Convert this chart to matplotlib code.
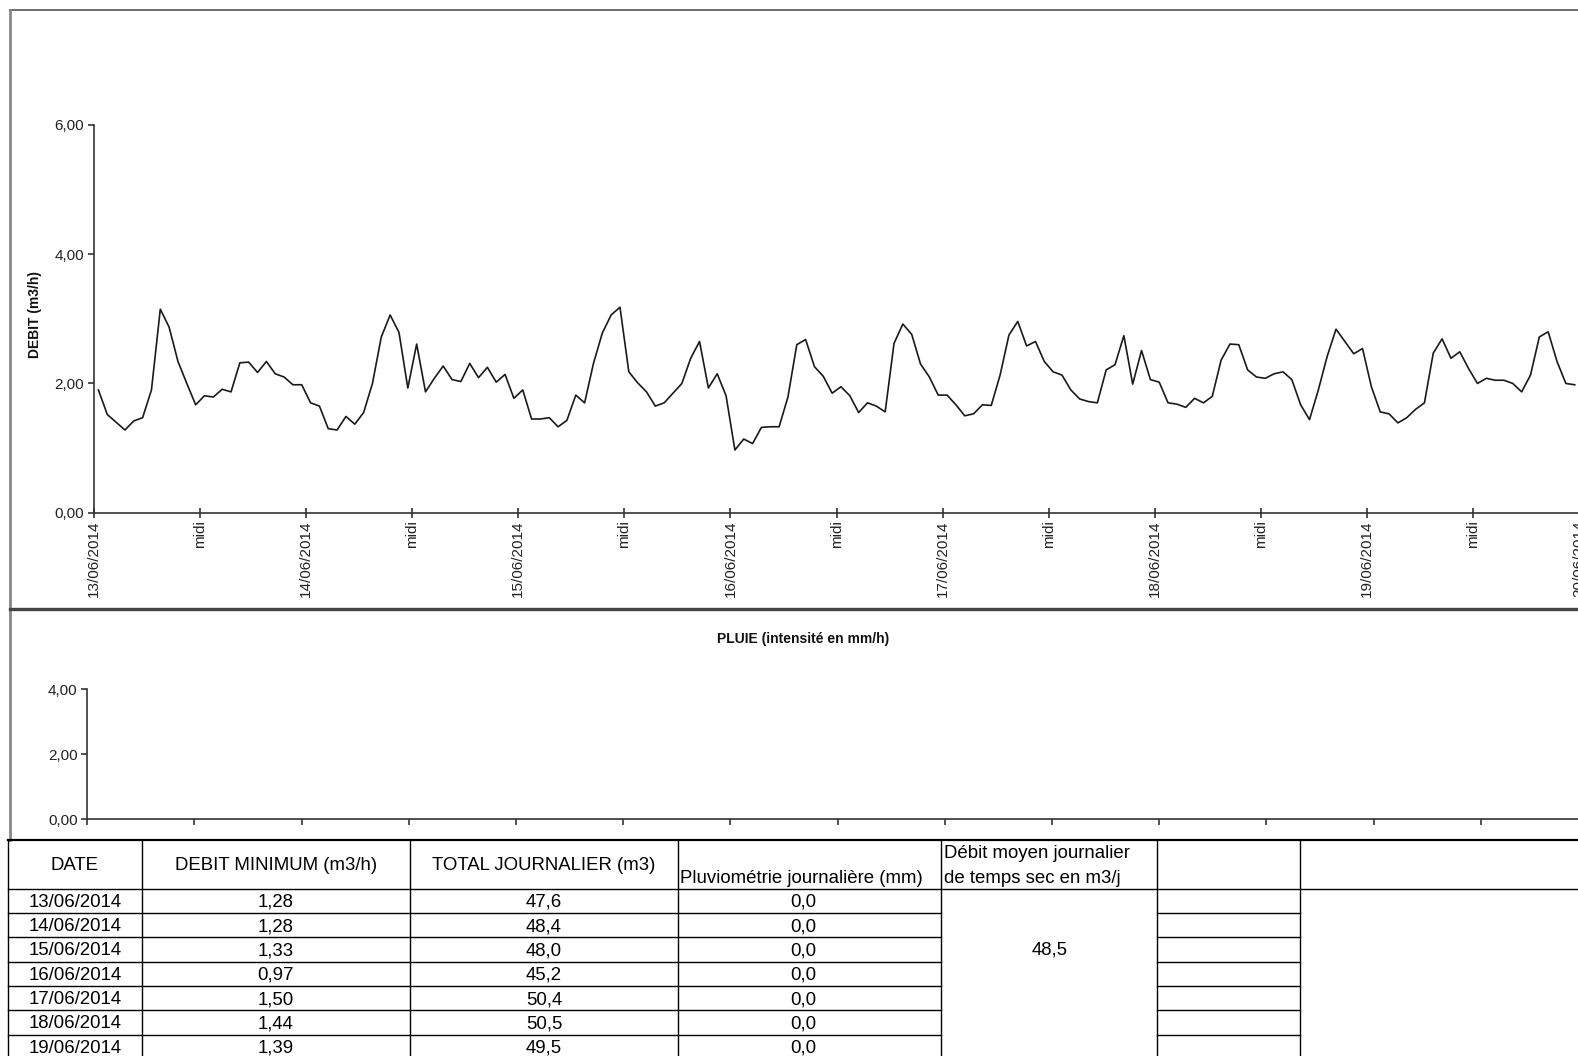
import numpy as np
import matplotlib
matplotlib.use("Agg")
import matplotlib.pyplot as plt
from matplotlib.ticker import FuncFormatter

plt.rcParams["font.family"] = ["Liberation Sans", "DejaVu Sans"]

# hourly flow (m3/h), 13/06/2014 00h -> 19/06/2014 23h
debit = [1.90, 1.52, 1.40, 1.28, 1.42, 1.47, 1.90, 3.15, 2.87, 2.34, 2.00, 1.67,
         1.81, 1.79, 1.91, 1.87, 2.32, 2.33, 2.17, 2.34, 2.15, 2.10, 1.98, 1.98,
         1.70, 1.65, 1.30, 1.28, 1.49, 1.37, 1.55, 2.00, 2.72, 3.06, 2.79, 1.93,
         2.61, 1.87, 2.08, 2.27, 2.06, 2.03, 2.31, 2.09, 2.25, 2.02, 2.14, 1.77,
         1.90, 1.45, 1.45, 1.47, 1.33, 1.43, 1.82, 1.70, 2.31, 2.78, 3.06, 3.18,
         2.18, 2.01, 1.87, 1.65, 1.70, 1.85, 2.00, 2.39, 2.65, 1.93, 2.15, 1.81,
         0.97, 1.14, 1.07, 1.32, 1.33, 1.33, 1.79, 2.60, 2.68, 2.26, 2.11, 1.85,
         1.95, 1.81, 1.55, 1.70, 1.65, 1.56, 2.62, 2.92, 2.76, 2.30, 2.10, 1.82,
         1.82, 1.67, 1.50, 1.53, 1.67, 1.66, 2.13, 2.75, 2.96, 2.58, 2.65, 2.34,
         2.18, 2.13, 1.90, 1.76, 1.72, 1.70, 2.21, 2.29, 2.74, 1.99, 2.51, 2.06,
         2.02, 1.70, 1.68, 1.63, 1.77, 1.70, 1.80, 2.36, 2.61, 2.60, 2.21, 2.10,
         2.08, 2.15, 2.18, 2.06, 1.67, 1.44, 1.90, 2.42, 2.84, 2.65, 2.46, 2.54,
         1.95, 1.56, 1.53, 1.39, 1.47, 1.60, 1.70, 2.47, 2.69, 2.39, 2.49, 2.23,
         2.00, 2.08, 2.05, 2.05, 2.00, 1.87, 2.13, 2.72, 2.80, 2.34, 2.00, 1.98]
pluie = [0.0] * 168

jours = ["13/06/2014", "14/06/2014", "15/06/2014", "16/06/2014",
         "17/06/2014", "18/06/2014", "19/06/2014", "20/06/2014"]

# table
dates = jours[:7]
debit_min = ["1,28", "1,28", "1,33", "0,97", "1,50", "1,44", "1,39"]
total_jour = ["47,6", "48,4", "48,0", "45,2", "50,4", "50,5", "49,5"]
pluvio = ["0,0"] * 7
debit_moyen = "48,5"

W, H = 1578, 1056
fig = plt.figure(figsize=(W / 100, H / 100), dpi=100)


def box(x0, y0, x1, y1):
    return [x0 / W, 1 - y1 / H, (x1 - x0) / W, (y1 - y0) / H]


virg = FuncFormatter(lambda v, p: f"{v:.2f}".replace(".", ","))
gris = "#333333"

# debit chart
ax = fig.add_axes(box(94, 125, 1620, 512.7))
h = np.arange(len(debit)) + 0.5
ax.plot(h, debit, color="#1a1a1a", lw=1.2)
ax.set_xlim(0, (1620 - 94) / 8.84)
ax.set_ylim(0, 6)
ax.set_yticks([0, 2, 4, 6])
ax.yaxis.set_major_formatter(virg)
ticks = np.arange(0, 169, 12)
labels = []
for i in range(len(ticks)):
    labels.append(jours[i // 2] if i % 2 == 0 else "midi")
ax.set_xticks(ticks)
ax.set_xticklabels(labels, rotation=90, va="top")
for s in ["top", "right"]:
    ax.spines[s].set_visible(False)
for s in ["left", "bottom"]:
    ax.spines[s].set_color(gris)
    ax.spines[s].set_linewidth(1.2)
ax.tick_params(axis="x", direction="inout", length=7, width=1.2, color=gris,
               labelsize=11, labelcolor="#222222", pad=2)
ax.tick_params(axis="y", direction="out", length=4, width=1.2, color=gris,
               labelsize=11, labelcolor="#222222", pad=3)

# rain chart
ax2 = fig.add_axes(box(87.3, 689.3, 1620, 819.3))
ax2.bar(np.arange(len(pluie)) + 0.5, pluie, width=1, color="#1a1a1a")
ax2.set_xlim(0, (1620 - 87.3) / 8.933)
ax2.set_ylim(0, 4)
ax2.set_yticks([0, 2, 4])
ax2.yaxis.set_major_formatter(virg)
ax2.set_xticks(np.arange(0, 180, 12))
ax2.set_xticklabels([])
for s in ["top", "right"]:
    ax2.spines[s].set_visible(False)
for s in ["left", "bottom"]:
    ax2.spines[s].set_color(gris)
    ax2.spines[s].set_linewidth(1.2)
ax2.tick_params(direction="out", length=4, width=1.2, color=gris,
                labelsize=11, labelcolor="#222222", pad=3)

# frame, titles and table drawn in pixel coordinates
ov = fig.add_axes([0, 0, 1, 1], zorder=-1)
ov.set_xlim(0, W)
ov.set_ylim(H, 0)
ov.axis("off")

ov.plot([10, W], [10, 10], color="#555555", lw=1.2)
ov.plot([10, 10], [10, 840], color="#888888", lw=2)
ov.plot([10, W], [609, 609], color="#444444", lw=2.4)

ov.text(35, 314, "DEBIT (m3/h)", rotation=90, ha="center", va="center",
        fontsize=10, fontweight="bold", color="#111111")
ov.text(803, 639, "PLUIE (intensité en mm/h)", ha="center", va="center",
        fontsize=10, fontweight="bold", color="#111111")

cols = [8, 141.9, 409.6, 678.3, 941, 1157.3, 1300.2]
top, hdr, rh = 840, 888.6, 24.33
lk = dict(color="black", lw=1.0)
ov.plot([8, W], [top, top], color="black", lw=1.6)
ov.plot([8, W], [hdr, hdr], **lk)
for c in cols:
    ov.plot([c, c], [top, H], **lk)
for i in range(1, 8):
    y = hdr + i * rh
    ov.plot([cols[0], cols[4]], [y, y], **lk)
    ov.plot([cols[5], cols[6]], [y, y], **lk)

fs = 13.4
ov.text((cols[0] + cols[1]) / 2, 865.5, "DATE", ha="center", va="center", fontsize=fs)
ov.text((cols[1] + cols[2]) / 2, 865.5, "DEBIT MINIMUM (m3/h)", ha="center",
        va="center", fontsize=fs)
ov.text((cols[2] + cols[3]) / 2, 865.5, "TOTAL JOURNALIER (m3)", ha="center",
        va="center", fontsize=fs)
ov.text(cols[3] + 2, 878.5, "Pluviométrie journalière (mm)", ha="left",
        va="center", fontsize=fs)
ov.text(cols[4] + 3, 854, "Débit moyen journalier", ha="left", va="center", fontsize=fs)
ov.text(cols[4] + 3, 878.5, "de temps sec en m3/j", ha="left", va="center", fontsize=fs)

for i in range(7):
    y = hdr + (i + 0.5) * rh + 1.5
    ov.text((cols[0] + cols[1]) / 2, y, dates[i], ha="center", va="center", fontsize=fs)
    ov.text((cols[1] + cols[2]) / 2, y, debit_min[i], ha="center", va="center", fontsize=fs)
    ov.text((cols[2] + cols[3]) / 2, y, total_jour[i], ha="center", va="center", fontsize=fs)
    ov.text((cols[3] + cols[4]) / 2 - 6, y, pluvio[i], ha="center", va="center", fontsize=fs)
ov.text((cols[4] + cols[5]) / 2, 950, debit_moyen, ha="center", va="center", fontsize=fs)

fig.savefig("out.png", dpi=100)
